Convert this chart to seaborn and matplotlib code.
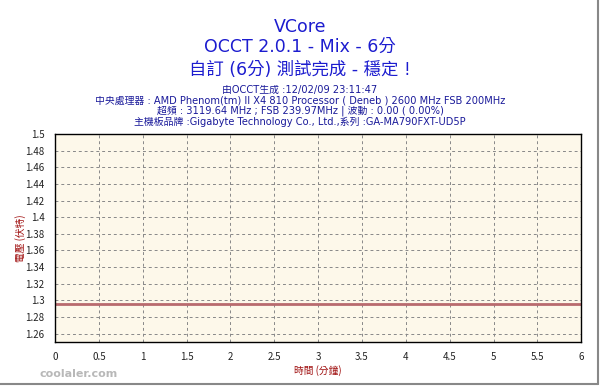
"""
OCCT VCore chart recreation
"""

import numpy as np
import pandas as pd
import matplotlib
matplotlib.use('Agg')
import matplotlib.pyplot as plt
from matplotlib.ticker import MultipleLocator
from matplotlib.lines import Line2D
import seaborn as sns

# Data
time_min = [0.0, 1.0, 2.0, 3.0, 4.0, 5.0, 6.0]
vcore = [1.296, 1.296, 1.296, 1.296, 1.296, 1.296, 1.296]
x_ticks = [0, 0.5, 1, 1.5, 2, 2.5, 3, 3.5, 4, 4.5, 5, 5.5, 6]
y_ticks = [1.26, 1.28, 1.3, 1.32, 1.34, 1.36, 1.38, 1.4, 1.42, 1.44, 1.46, 1.48, 1.5]

title_lines = ['VCore', 'OCCT 2.0.1 - Mix - 6分', '自訂 (6分) 測試完成 - 穩定 !']
info_lines = [
    '由OCCT生成 :12/02/09 23:11:47',
    '中央處理器 : AMD Phenom(tm) II X4 810 Processor ( Deneb ) 2600 MHz FSB 200MHz',
    '超頻 : 3119.64 MHz ; FSB 239.97MHz | 波動 : 0.00 ( 0.00%)',
    '主機板品牌 :Gigabyte Technology Co., Ltd.,系列 :GA-MA790FXT-UD5P',
]

df = pd.DataFrame({'time': time_min, 'vcore': vcore})

sns.set_style('white')
plt.rcParams['font.family'] = ['Noto Sans CJK TC', 'DejaVu Sans']
wide_font = ['DejaVu Sans', 'Noto Sans CJK TC']

fig = plt.figure(figsize=(6.0, 3.86), dpi=100)
ax = fig.add_axes([0.0917, 0.114, 0.877, 0.539])
ax.set_facecolor('#fdf8ea')

sns.lineplot(data=df, x='time', y='vcore', ax=ax, color='#b86a6e', linewidth=2.0)

ax.set_xlim(0, 6)
ax.set_ylim(1.25, 1.5)
ax.set_xticks(x_ticks)
ax.set_xticklabels([f'{t:g}' for t in x_ticks])
ax.set_yticks(y_ticks)
ax.set_yticklabels([f'{t:g}' for t in y_ticks])
ax.xaxis.set_minor_locator(MultipleLocator(0.1))
ax.yaxis.set_minor_locator(MultipleLocator(0.005))
ax.tick_params(axis='both', which='major', length=4, width=0.8, color='black',
               labelsize=7, labelcolor='#222222', direction='out')
ax.tick_params(axis='both', which='minor', length=2, width=0.6, color='black', direction='out')
ax.grid(True, which='major', color='#888888', linestyle=(0, (3, 3)), linewidth=0.7)
for side in ['left', 'bottom', 'top', 'right']:
    ax.spines[side].set_visible(True)
    ax.spines[side].set_color('black')
    ax.spines[side].set_linewidth(1.0)

ax.set_xlabel('時間 (分鐘)', color='#a01010', fontsize=7, labelpad=2)
ax.set_ylabel('電壓 (伏特)', color='#a01010', fontsize=7, labelpad=3)
ax.yaxis.set_label_coords(-0.055, 0.5)

# titles
title_y = [0.930, 0.878, 0.818]
for txt, y in zip(title_lines, title_y):
    fig.text(0.5, y, txt, ha='center', va='center', color='#1c1ccf', fontsize=12.5,
             family=wide_font)
info_y = [0.768, 0.740, 0.712, 0.683]
for txt, y in zip(info_lines, info_y):
    fig.text(0.5, y, txt, ha='center', va='center', color='#1a1a9a', fontsize=7.1,
             family=wide_font)

# watermark
fig.text(0.065, 0.03, 'coolaler.com', color='#b8b8b8', fontsize=8, fontweight='bold',
         ha='left', va='center', family=wide_font)

# gray frame lines at right and bottom edges
fig.add_artist(Line2D([0.996, 0.996], [0.005, 1.0], transform=fig.transFigure,
                      color='#888888', linewidth=1.5))
fig.add_artist(Line2D([0.0, 0.996], [0.006, 0.006], transform=fig.transFigure,
                      color='#888888', linewidth=1.5))

fig.savefig('out.png', dpi=100)
